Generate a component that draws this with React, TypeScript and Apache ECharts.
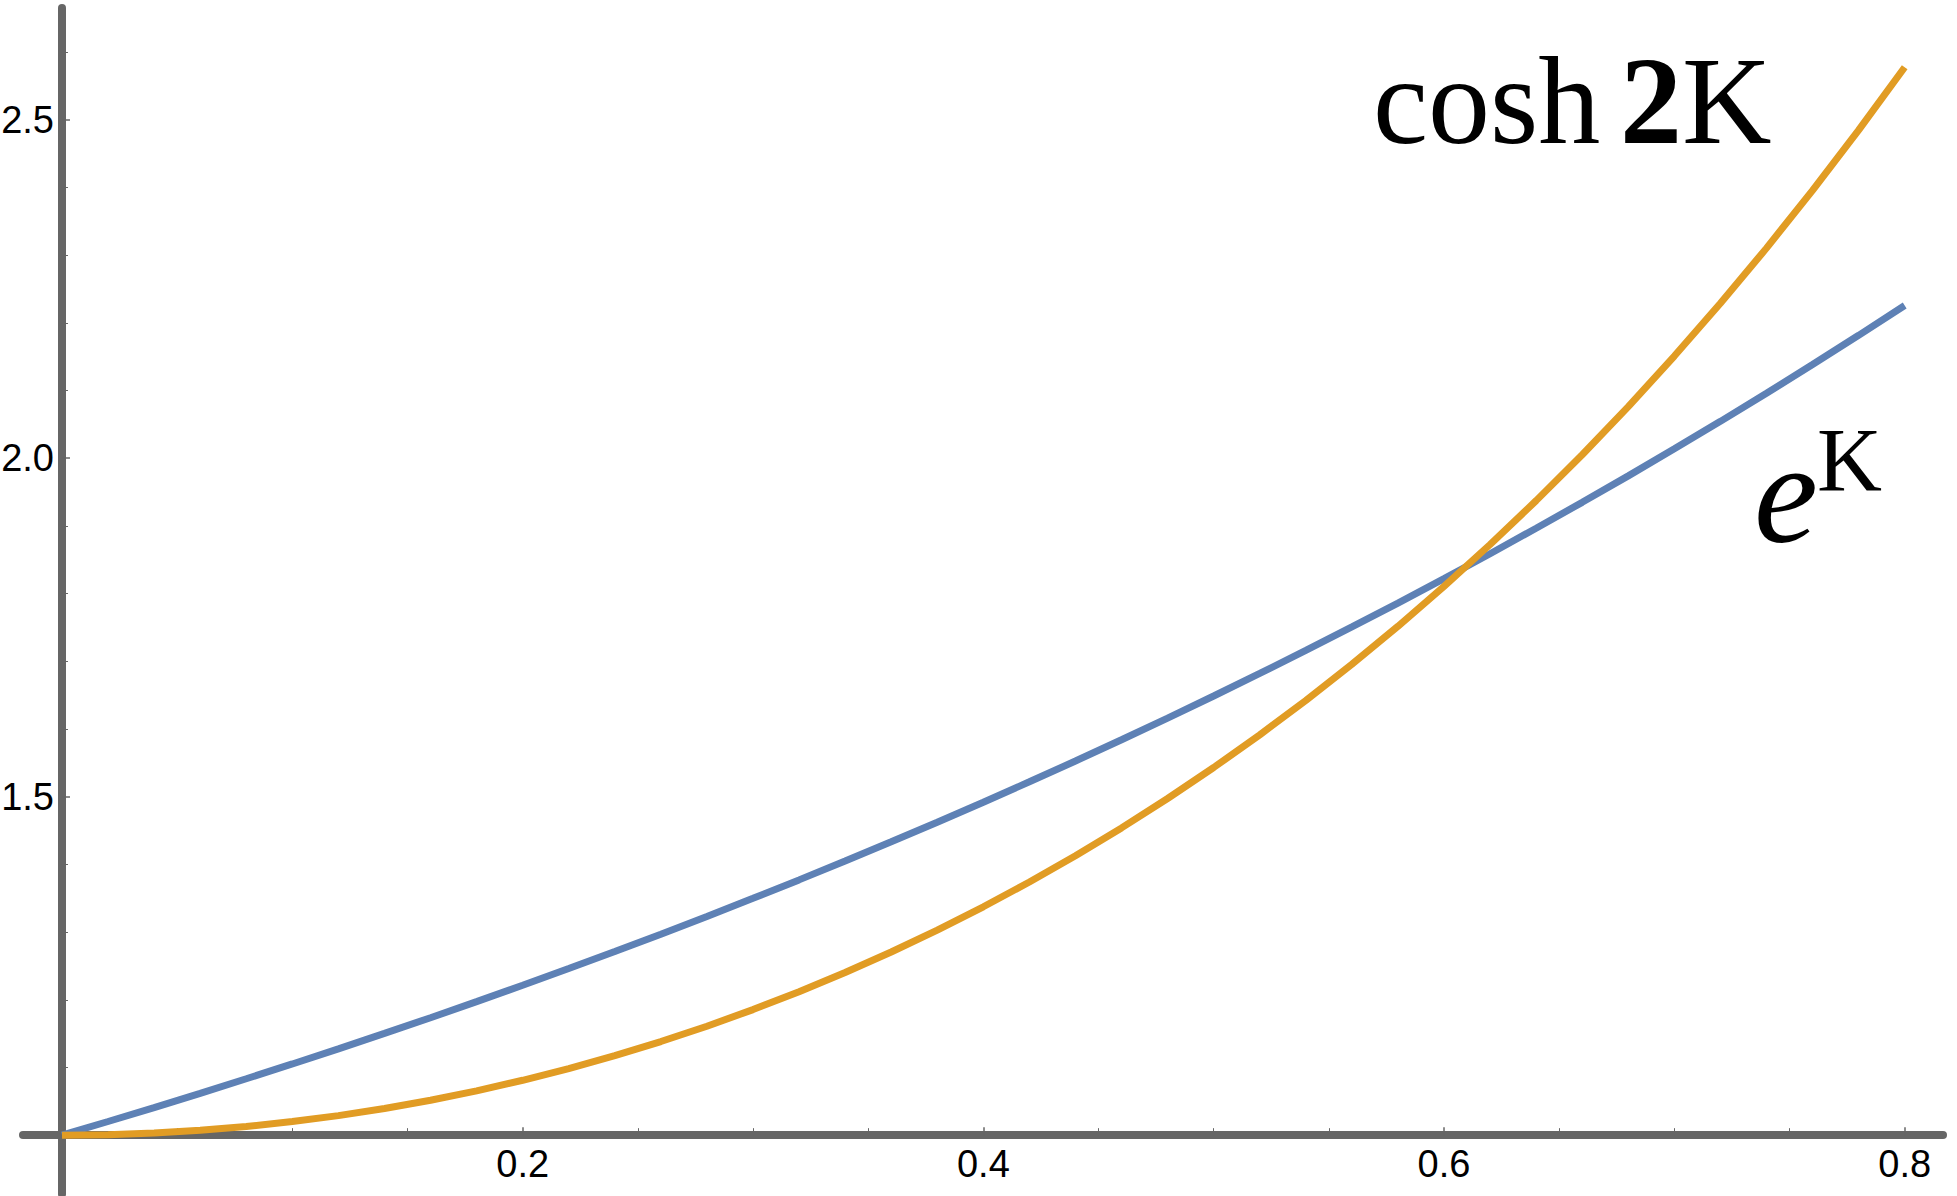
import React, { useEffect, useRef } from "react";
import * as echarts from "echarts";

// K values (x) and curve values
const kValues = [
  0, 0.02, 0.04, 0.06, 0.08, 0.1, 0.12, 0.14, 0.16, 0.18, 0.2, 0.22, 0.24, 0.26, 0.28, 0.3,
  0.32, 0.34, 0.36, 0.38, 0.4, 0.42, 0.44, 0.46, 0.48, 0.5, 0.52, 0.54, 0.56, 0.58, 0.6,
  0.62, 0.64, 0.66, 0.68, 0.7, 0.72, 0.74, 0.76, 0.78, 0.8,
];
const expK = [
  1, 1.0202, 1.0408, 1.0618, 1.0833, 1.1052, 1.1275, 1.1503, 1.1735, 1.1972, 1.2214,
  1.2461, 1.2712, 1.2969, 1.3231, 1.3499, 1.3771, 1.4049, 1.4333, 1.4623, 1.4918,
  1.522, 1.5527, 1.5841, 1.6161, 1.6487, 1.682, 1.716, 1.7507, 1.786, 1.8221,
  1.8589, 1.8965, 1.9348, 1.9739, 2.0138, 2.0544, 2.0959, 2.1383, 2.1815, 2.2255,
];
const cosh2K = [
  1, 1.0008, 1.0032, 1.0072, 1.0128, 1.0201, 1.0289, 1.0395, 1.0516, 1.0655, 1.0811,
  1.0984, 1.1174, 1.1383, 1.1609, 1.1855, 1.2119, 1.2402, 1.2706, 1.303, 1.3374,
  1.374, 1.4128, 1.4539, 1.4973, 1.5431, 1.5913, 1.6421, 1.6956, 1.7517, 1.8107,
  1.8725, 1.9373, 2.0051, 2.0762, 2.1509, 2.2288, 2.3103, 2.3956, 2.4847, 2.5775,
];

const xMajorTicks = [0.2, 0.4, 0.6, 0.8];
const xMinorTicks = [0.05, 0.1, 0.15, 0.25, 0.3, 0.35, 0.45, 0.5, 0.55, 0.65, 0.7, 0.75];
const yMajorTicks = [1.5, 2.0, 2.5];
const yMinorTicks = [1.1, 1.2, 1.3, 1.4, 1.6, 1.7, 1.8, 1.9, 2.1, 2.2, 2.3, 2.4, 2.6];

const X_MIN = -0.01693;
const X_MAX = 0.81663;
const Y_MIN = 0.9131;
const Y_MAX = 2.665;
const X_AXIS_AT = 1; // x axis crosses at y = 1
const Y_AXIS_AT = 0; // y axis crosses at x = 0

const W = 1957;
const H = 1196;
const GRID = { left: 23, right: 14, top: 8, bottom: 2 };

const AXIS_COLOR = "#666666";
const BLUE = "#5E81B5";
const ORANGE = "#E19C24";
const LABEL_FONT = "'Liberation Sans', Arial, sans-serif";
const MATH_FONT = "'Liberation Serif', 'Times New Roman', serif";

export default function App() {
  const ref = useRef<HTMLDivElement>(null);

  useEffect(() => {
    if (!ref.current) return;
    const chart = echarts.init(ref.current, null, { renderer: "svg" });
    const gridH = H - GRID.top - GRID.bottom;
    const gridW = W - GRID.left - GRID.right;
    const xOffset = -((X_AXIS_AT - Y_MIN) / (Y_MAX - Y_MIN)) * gridH;
    const yOffset = -((Y_AXIS_AT - X_MIN) / (X_MAX - X_MIN)) * gridW;

    const labelStyle = {
      color: "#000",
      fontSize: 38,
      fontFamily: LABEL_FONT,
    };

    chart.setOption({
      animation: false,
      grid: { ...GRID, containLabel: false, outerBoundsMode: "none" },
      xAxis: [
        {
          type: "value",
          min: X_MIN,
          max: X_MAX,
          position: "bottom",
          offset: xOffset,
          axisLine: { show: true, onZero: false, lineStyle: { color: AXIS_COLOR, width: 8 } },
          axisTick: {
            show: true,
            inside: true,
            length: 8,
            customValues: xMajorTicks,
            lineStyle: { color: AXIS_COLOR, width: 1.5 },
          },
          axisLabel: {
            ...labelStyle,
            margin: 10,
            customValues: xMajorTicks,
            formatter: (v: number) => v.toFixed(1),
          },
          splitLine: { show: false },
        },
        {
          type: "value",
          min: X_MIN,
          max: X_MAX,
          position: "bottom",
          offset: xOffset,
          axisLine: { show: false, onZero: false },
          axisTick: {
            show: true,
            inside: true,
            length: 7,
            customValues: xMinorTicks,
            lineStyle: { color: AXIS_COLOR, width: 1 },
          },
          axisLabel: { show: false },
          splitLine: { show: false },
        },
      ],
      yAxis: [
        {
          type: "value",
          min: Y_MIN,
          max: Y_MAX,
          position: "left",
          offset: yOffset,
          axisLine: {
            show: true,
            onZero: false,
            lineStyle: { color: AXIS_COLOR, width: 8 },
          },
          axisTick: {
            show: true,
            inside: true,
            length: 8,
            customValues: yMajorTicks,
            lineStyle: { color: AXIS_COLOR, width: 1.5 },
          },
          axisLabel: {
            ...labelStyle,
            margin: 8,
            customValues: yMajorTicks,
            formatter: (v: number) => v.toFixed(1),
          },
          splitLine: { show: false },
        },
        {
          type: "value",
          min: Y_MIN,
          max: Y_MAX,
          position: "left",
          offset: yOffset,
          axisLine: { show: false, onZero: false },
          axisTick: {
            show: true,
            inside: true,
            length: 6,
            customValues: yMinorTicks,
            lineStyle: { color: AXIS_COLOR, width: 1 },
          },
          axisLabel: { show: false },
          splitLine: { show: false },
        },
      ],
      series: [
        {
          name: "e^K",
          type: "line",
          xAxisIndex: 0,
          yAxisIndex: 0,
          showSymbol: false,
          symbol: "none",
          data: kValues.map((k, i) => [k, expK[i]]),
          lineStyle: { color: BLUE, width: 7, cap: "butt" },
          z: 3,
        },
        {
          name: "cosh 2K",
          type: "line",
          xAxisIndex: 0,
          yAxisIndex: 0,
          showSymbol: false,
          symbol: "none",
          data: kValues.map((k, i) => [k, cosh2K[i]]),
          lineStyle: { color: ORANGE, width: 7, cap: "butt" },
          z: 4,
        },
      ],
      graphic: [
        {
          type: "text",
          left: 1373,
          top: 39,
          style: {
            text: "cosh",
            fontFamily: MATH_FONT,
            fontSize: 124,
            fill: "#000",
          },
        },
        {
          type: "text",
          left: 1620,
          top: 39,
          style: {
            text: "{b|2}{a|K}",
            rich: {
              a: { fontFamily: MATH_FONT, fontSize: 124, color: "#000" },
              b: { fontFamily: MATH_FONT, fontSize: 124, fontWeight: "bold", color: "#000" },
            },
          },
        },
        {
          type: "text",
          left: 1754,
          top: 421,
          style: {
            text: "e",
            fontFamily: MATH_FONT,
            fontSize: 144,
            fontStyle: "italic",
            fill: "#000",
          },
        },
        {
          type: "text",
          left: 1817,
          top: 415,
          style: {
            text: "K",
            fontFamily: MATH_FONT,
            fontSize: 90,
            fill: "#000",
          },
        },
      ],
    });
    return () => chart.dispose();
  }, []);

  return (
    <div
      ref={ref}
      style={{ position: "fixed", left: 0, top: 0, width: W, height: H, background: "#fff" }}
    />
  );
}
